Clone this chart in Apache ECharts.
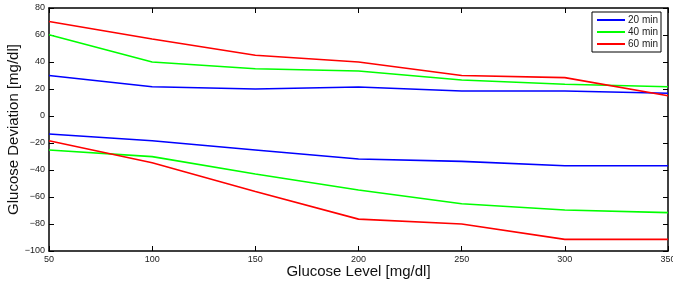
<!DOCTYPE html>
<html>
<head>
<meta charset="utf-8">
<script src="https://cdn.jsdelivr.net/npm/echarts@6/dist/echarts.min.js"></script>
<style>
  html, body { margin: 0; padding: 0; background: #fff; }
  #chart { width: 673px; height: 284px; }
</style>
</head>
<body>
<div id="chart"></div>
<script>
// glucose level (x)
const levels = [50, 100, 150, 200, 250, 300, 350];
// upper / lower deviation bounds per prediction horizon
const upper20 = [30, 21.7, 20, 21.5, 18.5, 18.5, 16.8];
const lower20 = [-13.3, -18.3, -25.2, -31.9, -33.6, -36.8, -36.8];
const upper40 = [60.2, 40, 35, 33.3, 26.7, 23.5, 21.7];
const lower40 = [-25.2, -30.1, -43, -54.8, -65, -69.6, -71.6];
const upper60 = [70, 57, 45, 40, 30, 28.4, 15];
const lower60 = [-18.3, -34.6, -56, -76.4, -80, -91.4, -91.4];

const names = ["20 min", "40 min", "60 min"];
const colors = ["#0000ff", "#00ff00", "#ff0000"];

const chart = echarts.init(document.getElementById("chart"));

function pts(vals) {
  return levels.map((x, i) => [x, vals[i]]);
}

function line(name, color, vals) {
  return {
    name: name,
    type: "line",
    data: pts(vals),
    symbol: "none",
    lineStyle: { color: color, width: 1.6 },
    itemStyle: { color: color },
    animation: false,
  };
}

const font = "Liberation Sans, Helvetica, Arial, sans-serif";
const axisLine = { show: true, onZero: false, lineStyle: { color: "#000", width: 1.5 } };
const tick = { inside: true, length: 5, lineStyle: { color: "#000" } };

chart.setOption({
  backgroundColor: "#fff",
  grid: { left: 49, right: 5, top: 8, bottom: 33, outerBoundsMode: "none", containLabel: false },
  legend: {
    data: names,
    right: 12,
    top: 12,
    orient: "vertical",
    itemWidth: 28,
    itemHeight: 2,
    itemGap: 2,
    padding: [3, 3, 3, 5],
    borderColor: "#000",
    borderWidth: 1,
    backgroundColor: "#fff",
    icon: "rect",
    textStyle: { fontFamily: font, fontSize: 10, color: "#222", padding: [0, 0, 0, -2] },
  },
  xAxis: [
    {
      type: "value",
      min: 50, max: 350, interval: 50,
      name: "Glucose Level [mg/dl]",
      nameLocation: "middle",
      nameGap: 13,
      nameMoveOverlap: false,
      nameTextStyle: { fontFamily: font, fontSize: 15, color: "#111" },
      axisLine: axisLine,
      axisTick: tick,
      splitLine: { show: false },
      axisLabel: { fontFamily: font, fontSize: 9, color: "#222", margin: 4 },
    },
    {
      type: "value",
      position: "top",
      min: 50, max: 350, interval: 50,
      axisLine: axisLine,
      axisTick: tick,
      splitLine: { show: false },
      axisLabel: { show: false },
    },
  ],
  yAxis: [
    {
      type: "value",
      min: -100, max: 80, interval: 20,
      name: "Glucose Deviation [mg/dl]",
      nameLocation: "middle",
      nameGap: 28,
      nameMoveOverlap: false,
      nameTextStyle: { fontFamily: font, fontSize: 15, color: "#111" },
      axisLine: axisLine,
      axisTick: tick,
      splitLine: { show: false },
      axisLabel: {
        fontFamily: font, fontSize: 9, color: "#222", margin: 4,
        formatter: v => (v < 0 ? "\u2212" + Math.abs(v) : String(v)),
      },
    },
    {
      type: "value",
      position: "right",
      min: -100, max: 80, interval: 20,
      axisLine: axisLine,
      axisTick: tick,
      splitLine: { show: false },
      axisLabel: { show: false },
    },
  ],
  series: [
    line(names[0], colors[0], upper20),
    line(names[0], colors[0], lower20),
    line(names[1], colors[1], upper40),
    line(names[1], colors[1], lower40),
    line(names[2], colors[2], upper60),
    line(names[2], colors[2], lower60),
  ],
});
</script>
</body>
</html>
